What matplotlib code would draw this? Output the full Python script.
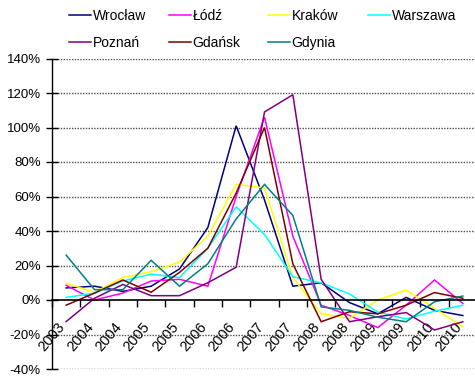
import matplotlib
matplotlib.use('Agg')
import matplotlib.pyplot as plt
from matplotlib.transforms import ScaledTranslation
from matplotlib import font_manager
import numpy as np

names = sorted({f.name for f in font_manager.fontManager.ttflist})
narrow = 'Liberation Sans Narrow' in names
plt.rcParams['font.family'] = (['Liberation Sans Narrow'] if narrow else []) + ['Liberation Sans', 'DejaVu Sans']

periods = ['2003', '2004', '2004', '2005', '2005', '2006', '2006', '2007',
           '2007', '2008', '2008', '2009', '2009', '2010', '2010']
cities = ['Wrocław', 'Łódź', 'Kraków', 'Warszawa', 'Poznań', 'Gdańsk', 'Gdynia']

wroclaw  = [7, 8, 5, 8, 18, 42, 101, 58, 8, 10, -1.5, -8, 1.5, -6, -9]
lodz     = [8.5, 0, 4, 11, 12, 8, 60, 106, 37, -3, -9, -16, -3, 11.6, -2]
krakow   = [9.7, 4.5, 13, 16.4, 22, 37, 67, 65, 13, -8, -10.6, 0, 5.8, -4.8, -15.5]
warszawa = [1.5, 4, 11, 15, 13, 30, 54, 38, 13.5, 10, 3.5, -7, -11, -6.5, -3]
poznan   = [-12.5, 1, 9, 2.5, 2.5, 10, 19, 109, 119, 12, -12.6, -9.7, -7.3, -17.4, -12.6]
gdansk   = [-3, 4, 11.6, 4.5, 16, 30, 62, 100, 21, -12.6, -6.8, -8, -3, 4.3, 1]
gdynia   = [26, 6, 6, 23, 8, 21, 47, 67, 49, -4, -6, -10, -12.6, -1, 2.3]

series = [wroclaw, lodz, krakow, warszawa, poznan, gdansk, gdynia]
colors = ['#000080', '#FF00FF', '#FFFF00', '#00FFFF', '#800080', '#800000', '#008080']
yticks = [-40, -20, 0, 20, 40, 60, 80, 100, 120, 140]

fs_tick = 10.5 if narrow else 9.5
fs_xtick = 12 if narrow else 10.5
fs_leg = 11.5 if narrow else 10

W, H = 475, 378
fig = plt.figure(figsize=(W / 100, H / 100), dpi=100)
ax = fig.add_axes([52 / W, 9 / H, 425 / W, 310.5 / H])

x = np.arange(len(periods))
lines = []
for vals, c, name in zip(series, colors, cities):
    ln, = ax.plot(x, vals, color=c, lw=1.1, label=name, solid_joinstyle='miter')
    lines.append(ln)

ax.set_xlim(-0.5, len(periods) - 0.5)
ax.set_ylim(-40, 140)
ax.set_yticks(yticks)
ax.set_yticklabels([f'{v}%' for v in yticks], fontsize=fs_tick)
for v in yticks:
    if v != 0:
        ax.axhline(v, color='#4d4d4d', lw=1.0, ls=(0, (1, 1)), zorder=0.5)

for s in ['top', 'right']:
    ax.spines[s].set_visible(False)
ax.spines['bottom'].set_position(('data', 0))
ax.spines['bottom'].set_linewidth(1.2)
ax.spines['left'].set_linewidth(1.0)

ax.tick_params(axis='y', direction='inout', length=8, width=1, pad=4)
ax.set_xticks(x)
ax.set_xticklabels(periods, fontsize=fs_xtick, rotation=50, ha='right', va='top',
                   rotation_mode='anchor')
ax.set_xticks(np.arange(-0.5, len(periods), 1), minor=True)
ax.tick_params(axis='x', which='major', length=0, pad=0)
ax.tick_params(axis='x', which='minor', direction='out', length=5, width=1)
off = ScaledTranslation(-9 / 100, -20 / 100, fig.dpi_scale_trans)
for lab in ax.get_xticklabels():
    lab.set_transform(lab.get_transform() + off)

# legend: four columns
col_x = [69, 169, 268, 368]
for ci, cx in enumerate(col_x):
    hs = [lines[ci]] + ([lines[ci + 4]] if ci + 4 < len(lines) else [])
    leg = fig.legend(handles=hs, labels=[h.get_label() for h in hs],
                     loc='upper left', bbox_to_anchor=(cx / W, 1 - 9 / H),
                     frameon=False, fontsize=fs_leg, handlelength=1.6,
                     handletextpad=0.1, borderpad=0, borderaxespad=0,
                     labelspacing=0.95)

fig.savefig('out.png', dpi=100)
